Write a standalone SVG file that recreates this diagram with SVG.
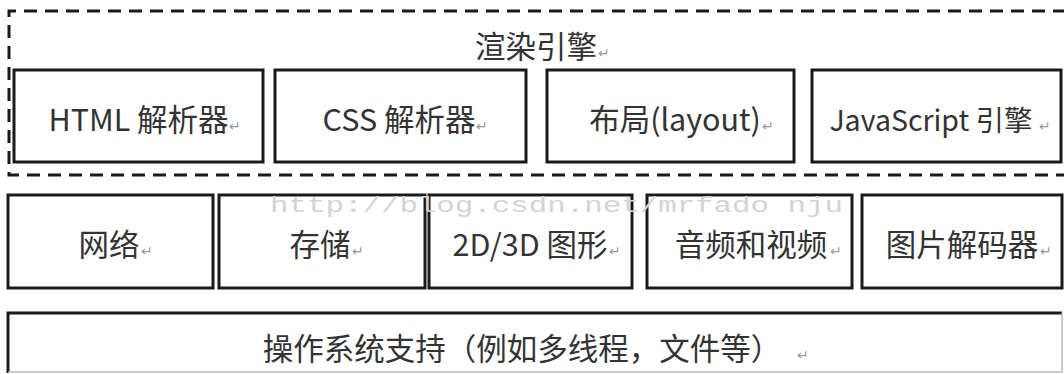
<svg xmlns="http://www.w3.org/2000/svg" width="1064" height="374" viewBox="0 0 1064 374">
<style>
.box{fill:#fff;stroke:#1a1a1a;stroke-width:3}
.lbl{font-family:"Noto Sans CJK SC","Noto Sans",sans-serif;font-size:30.5px;fill:#333;text-anchor:middle}
.ret{font-family:"DejaVu Sans",sans-serif;font-size:14px;fill:#999}
.wm{font-family:"Liberation Mono",monospace;font-size:22px;fill:#d4d4d4}
</style>
<rect width="1064" height="374" fill="#fff"/>
<g id="render-engine">
<path d="M1066 11 H9 V175 H1066" fill="none" stroke="#1a1a1a" stroke-width="3" stroke-dasharray="13 8"/>
<text class="lbl" x="536" y="58">渲染引擎</text><text class="ret" x="598" y="58">↵</text>
</g>
<g id="html-parser">
<rect class="box" x="14" y="70" width="249" height="92"/>
<text class="lbl" x="138.5" y="131">HTML 解析器</text><text class="ret" x="229" y="131">↵</text>
</g>
<g id="css-parser">
<rect class="box" x="275" y="70" width="251" height="92"/>
<text class="lbl" x="399" y="131">CSS 解析器</text><text class="ret" x="476" y="131">↵</text>
</g>
<g id="layout">
<rect class="box" x="547" y="70" width="247" height="92"/>
<text class="lbl" x="675" y="131">布局(layout)</text><text class="ret" x="762" y="131">↵</text>
</g>
<g id="js-engine">
<rect class="box" x="812" y="70" width="249" height="92"/>
<text class="lbl" x="931" y="131" style="font-size:28.5px">JavaScript 引擎</text><text class="ret" x="1039" y="131">↵</text>
</g>
<g id="network">
<rect class="box" x="8" y="195" width="205" height="93"/>
<text class="lbl" x="109" y="256">网络</text><text class="ret" x="141" y="256">↵</text>
</g>
<g id="storage">
<rect class="box" x="219" y="195" width="206" height="93"/>
<text class="lbl" x="320" y="256">存储</text><text class="ret" x="352" y="256">↵</text>
</g>
<g id="graphics">
<rect class="box" x="429" y="195" width="203" height="93"/>
<text class="lbl" x="530" y="256">2D/3D 图形</text><text class="ret" x="609" y="256">↵</text>
</g>
<g id="audio-video">
<rect class="box" x="647" y="195" width="205" height="93"/>
<text class="lbl" x="751" y="256">音频和视频</text><text class="ret" x="830" y="256">↵</text>
</g>
<g id="image-decoder">
<rect class="box" x="862" y="195" width="200" height="93"/>
<text class="lbl" x="962" y="256">图片解码器</text><text class="ret" x="1040" y="256">↵</text>
</g>
<text class="wm" x="270" y="212" textLength="573" lengthAdjust="spacingAndGlyphs">http://blog.csdn.net/mrfado nju</text>
<g id="os-support">
<path d="M8 373 V313 H1062" fill="none" stroke="#1a1a1a" stroke-width="3"/>
<path d="M1062 313 V372 H8" fill="none" stroke="#bbb" stroke-width="1.5"/>
<text class="lbl" x="522" y="360">操作系统支持（例如多线程，文件等）</text><text class="ret" x="797" y="360">↵</text>
</g>
<g id="connectors"></g>
</svg>
